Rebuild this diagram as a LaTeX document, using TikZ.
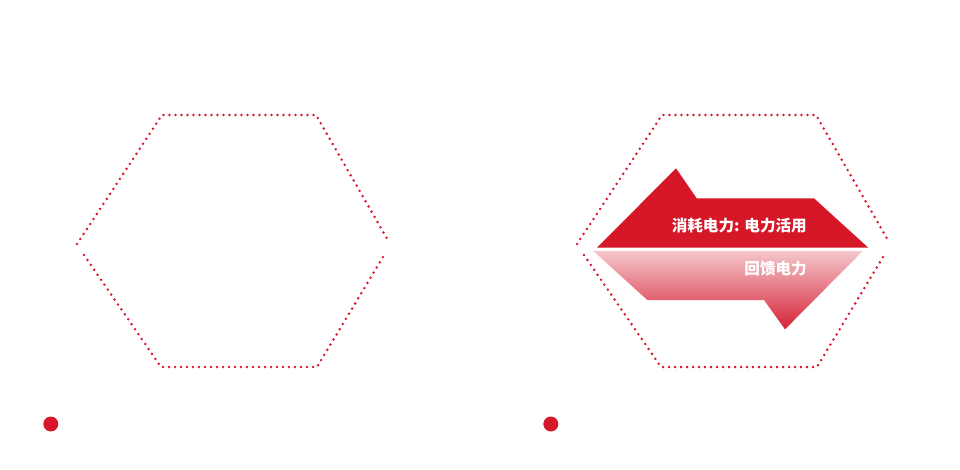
\documentclass[tikz,border=0pt]{standalone}
\usepackage{fontspec}
\newfontfamily\cjk{Noto Sans CJK SC}
\definecolor{hexred}{HTML}{D7182A}
\definecolor{arrowred}{HTML}{D51728}
\definecolor{flowpink}{HTML}{F5C6CB}
\definecolor{flowred}{HTML}{D52337}
\tikzset{
  hexline/.style = {hexred, line width=2.8pt, line cap=round, dash pattern=on 0pt off 6pt},
  flowtext/.style = {white, inner sep=0pt, anchor=east, font=\cjk\bfseries\fontsize{15.6pt}{15.6pt}\selectfont}
}
\begin{document}
\begin{tikzpicture}[x=1pt, y=-1pt]
    \useasboundingbox (0,0) rectangle (960,469);

    % hexagons
    \foreach \dx in {0,500} {
        \begin{scope}[xshift=\dx pt]
            \draw[hexline] (77,244) -- (162,115) -- (316,115) -- (389,242);
            \draw[hexline] (84,255) -- (161,367) -- (317,367) -- (383,257);
            \fill[hexred] (50.8,424) circle (7.5);
        \end{scope}
    }

    % arrows
    \begin{scope}
        \coordinate(a1) at (597,247.7);
        \coordinate(a2) at (676,168.3);
        \coordinate(a3) at (696.7,198.3);
        \coordinate(a4) at (814,198.3);
        \coordinate(a5) at (868.3,247.7);
        \fill[arrowred] (a1) -- (a2) -- (a3) -- (a4) -- (a5) -- cycle;

        \coordinate(b1) at (593.3,251);
        \coordinate(b2) at (862.7,251);
        \coordinate(b3) at (785,329.3);
        \coordinate(b4) at (764,300);
        \coordinate(b5) at (647.3,300);
        \shade[top color=flowpink, bottom color=flowred] (b1) -- (b2) -- (b3) -- (b4) -- (b5) -- cycle;
    \end{scope}

    \node[flowtext](t1) at (807,226) {消耗电力: 电力活用};
    \node[flowtext](t2) at (807,269) {回馈电力};
\end{tikzpicture}
\end{document}
